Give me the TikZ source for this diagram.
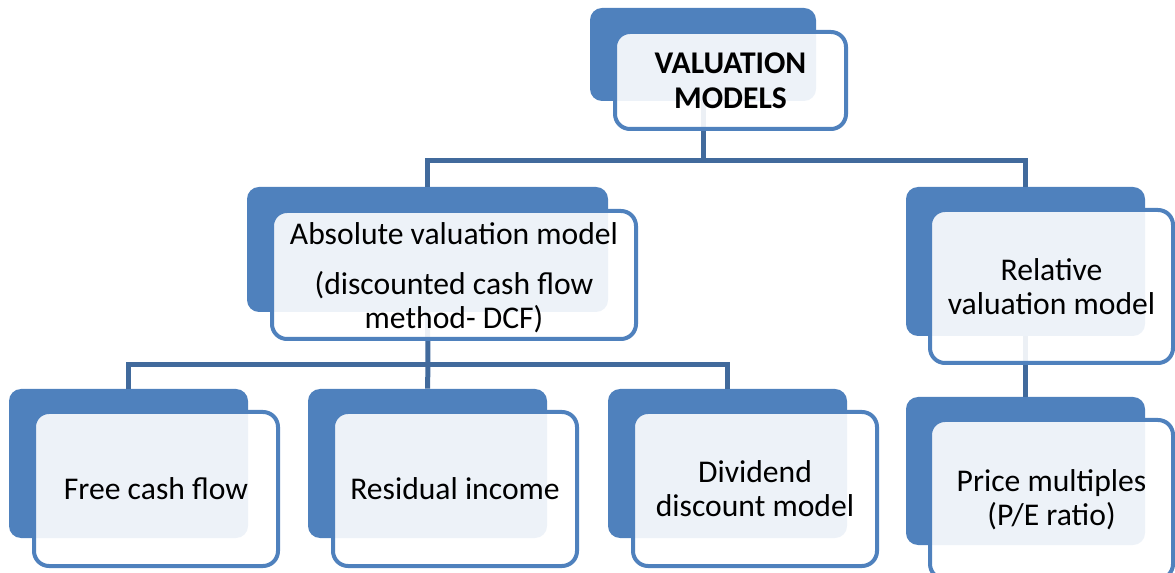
\documentclass[tikz,border=0pt]{standalone}
\usepackage{fontspec}
\setmainfont{Carlito}
\usepackage{tikz}
\usetikzlibrary{fit}
\definecolor{boxblue}{RGB}{79,129,189}
\definecolor{lineblue}{RGB}{65,106,156}

\begin{document}
\begin{tikzpicture}[x=0.02cm, y=-0.02cm,
        backbox/.style={fill=boxblue, draw=none, rounded corners=0.24cm, inner sep=0pt},
        frontbox/.style={fill=white, fill opacity=0.9, draw=boxblue, line width=0.08cm,
            rounded corners=0.3cm, inner sep=0pt},
        boxtext/.style={align=center, inner sep=0pt, anchor=center,
            font=\fontsize{18}{19.5}\selectfont},
        conn/.style={draw=lineblue, line width=0.1cm}]
        \useasboundingbox (0,0) rectangle (1175,573);
        \clip (0,0) rectangle (1175,573);
        % Coordinates
        \coordinate (A) at (590, 8);
        \coordinate (B) at (816, 101);
        \coordinate (C) at (615, 32);
        \coordinate (D) at (846, 129);
        \coordinate (E) at (247, 187);
        \coordinate (F) at (608, 312);
        \coordinate (G) at (272, 211);
        \coordinate (H) at (636, 339);
        \coordinate (I) at (906, 187);
        \coordinate (J) at (1145, 336);
        \coordinate (K) at (930, 210);
        \coordinate (L) at (1173, 363);
        \coordinate (M) at (9, 389);
        \coordinate (N) at (248, 538);
        \coordinate (O) at (34, 412);
        \coordinate (P) at (278, 566);
        \coordinate (Q) at (308, 389);
        \coordinate (R) at (547, 538);
        \coordinate (S) at (333, 412);
        \coordinate (T) at (577, 566);
        \coordinate (U) at (608, 389);
        \coordinate (V) at (847, 538);
        \coordinate (W) at (633, 412);
        \coordinate (X) at (877, 566);
        \coordinate (Y) at (906, 397);
        \coordinate (Z) at (1145, 545);
        \coordinate (AA) at (930, 420);
        \coordinate (AB) at (1173, 579);
        \coordinate (AC) at (703, 161);
        \coordinate (AD) at (428, 365);

        % Back boxes
        \node[backbox, fit=(A)(B)] (topback) {};
        \node[backbox, fit=(E)(F)] (absback) {};
        \node[backbox, fit=(I)(J)] (relback) {};
        \node[backbox, fit=(M)(N)] (fcfback) {};
        \node[backbox, fit=(Q)(R)] (riback) {};
        \node[backbox, fit=(U)(V)] (divback) {};
        \node[backbox, fit=(Y)(Z)] (pmback) {};

        % Connectors
        \draw[conn] (topback.south) -- (AC);
        \draw[conn] (absback.north) |- (AC) -| (relback.north);
        \draw[conn] (absback.south) -- (AD);
        \draw[conn] (fcfback.north) |- (AD) -| (divback.north);
        \draw[conn] (AD) -- (riback.north);
        \draw[conn] (relback.south) -- (pmback.north);

        % Front boxes
        \node[frontbox, fit=(C)(D)] (top) {};
        \node[frontbox, fit=(G)(H)] (abs) {};
        \node[frontbox, fit=(K)(L)] (rel) {};
        \node[frontbox, fit=(O)(P)] (fcf) {};
        \node[frontbox, fit=(S)(T)] (ri) {};
        \node[frontbox, fit=(W)(X)] (div) {};
        \node[frontbox, fit=(AA)(AB)] (pm) {};

        % Texts
        \node[boxtext, font=\fontsize{18}{20}\selectfont\bfseries] (toptext) at (top.center) {VALUATION\\MODELS};
        \node[boxtext] (abstext) at ([yshift=-0.05cm]abs.center) {Absolute valuation model\\[9pt](discounted cash flow\\method- DCF)};
        \node[boxtext] (reltext) at (rel.center) {Relative\\valuation model};
        \node[boxtext] (fcftext) at (fcf.center) {Free cash flow};
        \node[boxtext] (ritext) at (ri.center) {Residual income};
        \node[boxtext] (divtext) at (div.center) {Dividend\\discount model};
        \node[boxtext] (pmtext) at (pm.center) {Price multiples\\(P/E ratio)};
    \end{tikzpicture}
\end{document}
